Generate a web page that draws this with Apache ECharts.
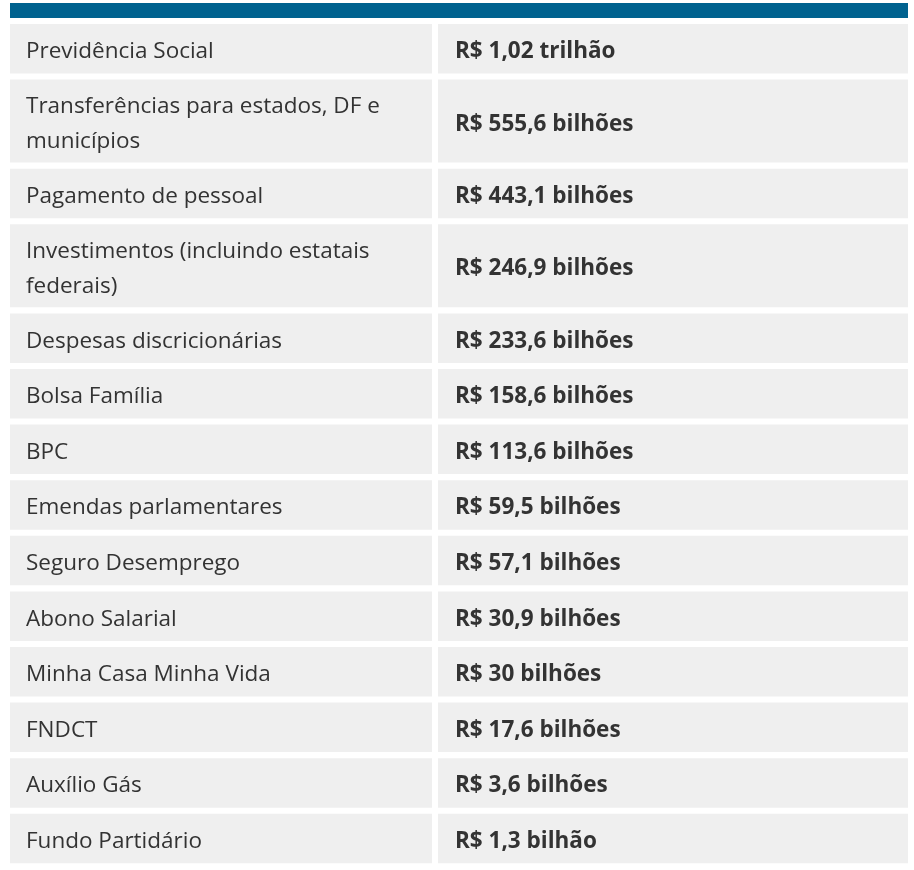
<!DOCTYPE html>
<html><head><meta charset="utf-8">
<script src="https://cdn.jsdelivr.net/npm/echarts@6/dist/echarts.min.js"></script>
<style>html,body{margin:0;background:#fff}#chart{width:914px;height:870px}</style>
</head><body><div id="chart"></div>
<script>
var categories=['Previdência Social','Transferências para estados, DF e\nmunicípios','Pagamento de pessoal','Investimentos (incluindo estatais\nfederais)','Despesas discricionárias','Bolsa Família','BPC','Emendas parlamentares','Seguro Desemprego','Abono Salarial','Minha Casa Minha Vida','FNDCT','Auxílio Gás','Fundo Partidário'];
var values=['R$ 1,02 trilhão','R$ 555,6 bilhões','R$ 443,1 bilhões','R$ 246,9 bilhões','R$ 233,6 bilhões','R$ 158,6 bilhões','R$ 113,6 bilhões','R$ 59,5 bilhões','R$ 57,1 bilhões','R$ 30,9 bilhões','R$ 30 bilhões','R$ 17,6 bilhões','R$ 3,6 bilhões','R$ 1,3 bilhão'];

var myChart=echarts.init(document.getElementById('chart'));
var els=[{type:'rect',shape:{x:10,y:3,width:898,height:15},style:{fill:'#00628f'}}];
var y=24;
var font='"Open Sans","Noto Sans",sans-serif';
categories.forEach(function(c,i){
    var h=c.indexOf('\n')>=0?83:49.5;
    els.push({type:'rect',shape:{x:10,y:y,width:422,height:h},style:{fill:'#efefef'}});
    els.push({type:'rect',shape:{x:438,y:y,width:470,height:h},style:{fill:'#efefef'}});
    els.push({type:'text',x:26,y:y+h/2+3,style:{text:c,fill:'#333',font:'22.5px '+font,lineHeight:35,verticalAlign:'middle'}});
    els.push({type:'text',x:455,y:y+h/2+3,style:{text:values[i],fill:'#333',font:'bold 22.5px '+font,verticalAlign:'middle'}});
    y+=h+6.1;
});
myChart.setOption({graphic:els});
</script></body></html>
